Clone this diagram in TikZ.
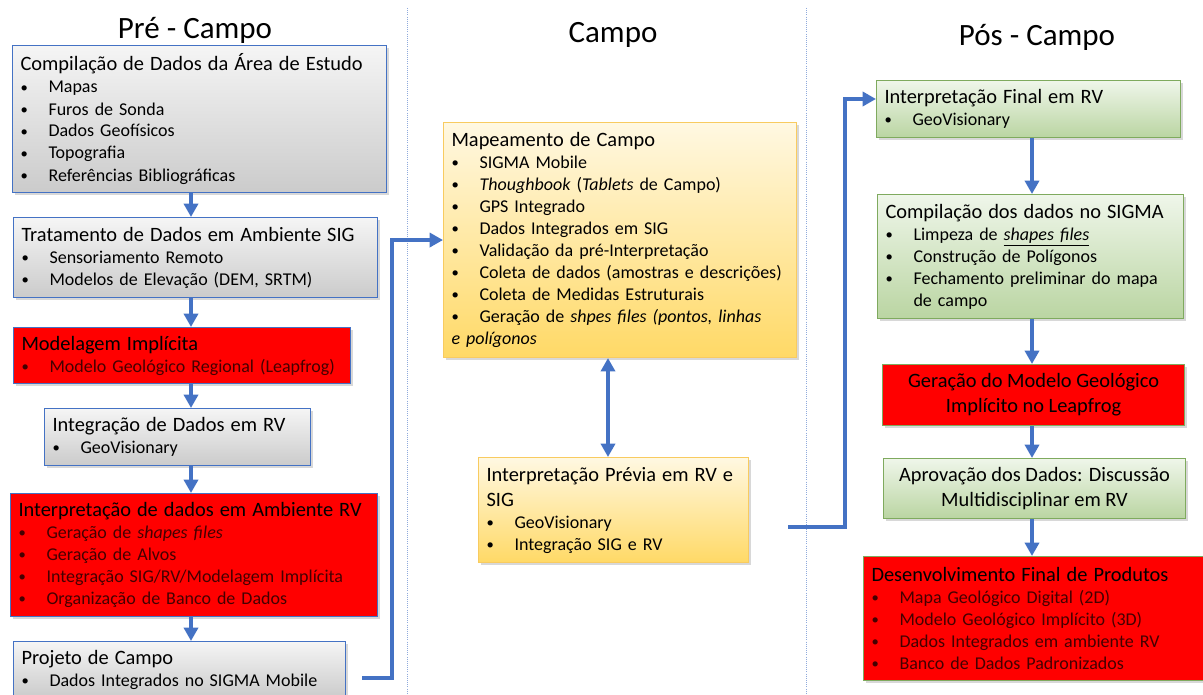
\documentclass[tikz,border=0pt]{standalone}
\usepackage{fontspec}
\setmainfont{Carlito}
\usepackage{tikz}
\usetikzlibrary{arrows.meta}
\usetikzlibrary{shadows}

\definecolor{flowblue}{HTML}{4472C4}
\definecolor{sepblue}{HTML}{8FAADC}
\definecolor{grayTop}{HTML}{F5F5F5}
\definecolor{grayBot}{HTML}{CBCBCB}
\definecolor{yelTop}{HTML}{FFF8E2}
\definecolor{yelBot}{HTML}{FFD966}
\definecolor{yelLine}{HTML}{F8CB60}
\definecolor{grnTop}{HTML}{EFF6EA}
\definecolor{grnBot}{HTML}{BAD5A2}
\definecolor{grnLine}{HTML}{7FAA5E}
\definecolor{boxRed}{HTML}{FF0000}
\definecolor{redText}{HTML}{440000}

\newcommand{\hd}[1]{{\fontsize{15.3}{18.75}\selectfont\color{black}\mbox{#1}\par}}
\newcommand{\bulletmark}{\raisebox{0.6pt}{\fontsize{11}{11}\selectfont\textbullet}}
\newcommand{\bl}[1]{\hangindent=21pt\hangafter=1\noindent\makebox[21pt][l]{\bulletmark}#1\par}
\newcommand{\blflat}[1]{\noindent\makebox[21pt][l]{\bulletmark}#1\par}

\begin{document}
\begin{tikzpicture}[x=0.75pt, y=-0.75pt]
\path[use as bounding box, fill=white] (0,0) rectangle (1203,695);

% column titles and separators
\begin{scope}[every node/.style={font=\fontsize{23.25}{28}\selectfont}]
    \node (t_pre) at (195,30) {Pré - Campo};
    \node (t_campo) at (613,35) {Campo};
    \node (t_pos) at (1037,37) {Pós - Campo};
\end{scope}
\coordinate (sep1a) at (407,8);
\coordinate (sep1b) at (407,695);
\coordinate (sep2a) at (806,8);
\coordinate (sep2b) at (806,695);
\draw[sepblue, densely dotted, line width=0.6pt] (sep1a) -- (sep1b);
\draw[sepblue, densely dotted, line width=0.6pt] (sep2a) -- (sep2b);

\begin{scope}[every node/.style={font=\fontsize{13.5}{16.5}\selectfont, anchor=north west,
                                 inner xsep=6pt, inner ysep=3pt, align=left, line width=0.8pt,
                                 drop shadow={opacity=0.3, shadow xshift=1.8pt, shadow yshift=-1.8pt}},
              gray_box/.style={draw=flowblue, top color=grayTop, bottom color=grayBot},
              red_box/.style={draw=flowblue, fill=boxRed, text=redText},
              redg_box/.style={draw=grnLine, fill=boxRed, text=redText},
              yellow_box/.style={draw=yelLine, top color=yelTop, bottom color=yelBot},
              green_box/.style={draw=grnLine, top color=grnTop, bottom color=grnBot}]
    % Pre - Campo
    \node[gray_box, text width=268.5pt, minimum height=110.25pt] (compila) at (12,45) {%
        \hd{Compilação de Dados da Área de Estudo}
        \bl{Mapas}
        \bl{Furos de Sonda}
        \bl{Dados Geofísicos}
        \bl{Topografia}
        \bl{Referências Bibliográficas}};
    \node[gray_box, text width=261pt, minimum height=60pt] (tratamento) at (13,217) {%
        \hd{Tratamento de Dados em Ambiente SIG}
        \bl{Sensoriamento Remoto}
        \bl{Modelos de Elevação (DEM, SRTM)}};
    \node[red_box, text width=240.75pt, minimum height=42pt] (modelagem) at (13,327) {%
        \hd{Modelagem Implícita}
        \bl{Modelo Geológico Regional (Leapfrog)}};
    \node[gray_box, text width=187.5pt, minimum height=42.75pt] (integra) at (44,408) {%
        \hd{Integração de Dados em RV}
        \bl{GeoVisionary}};
    \node[red_box, text width=263.25pt, minimum height=92.25pt] (interpreta) at (10,493) {%
        \hd{Interpretação de dados em Ambiente RV}
        \bl{Geração de \textit{shapes files}}
        \bl{Geração de Alvos}
        \bl{Integração SIG/RV/Modelagem Implícita}
        \bl{Organização de Banco de Dados}};
    \node[gray_box, text width=237pt, minimum height=42pt] (projeto) at (13,641) {%
        \hd{Projeto de Campo}
        \bl{Dados Integrados no SIGMA Mobile}};
    % Campo
    \node[yellow_box, text width=252.75pt, minimum height=176.25pt] (mapeamento) at (443,122) {%
        \hd{Mapeamento de Campo}
        \bl{SIGMA Mobile}
        \bl{\textit{Thoughbook} (\textit{Tablets} de Campo)}
        \bl{GPS Integrado}
        \bl{Dados Integrados em SIG}
        \bl{Validação da pré-Interpretação}
        \bl{Coleta de dados (amostras e descrições)}
        \bl{Coleta de Medidas Estruturais}
        \blflat{Geração de \textit{shpes files (pontos, linhas}\newline\textit{e polígonos}}};
    \node[yellow_box, text width=190.5pt, minimum height=78.75pt] (previa) at (478,457) {%
        \hd{Interpretação Prévia em RV e}
        \hd{SIG}
        \bl{GeoVisionary}
        \bl{Integração SIG e RV}};
    % Pos - Campo
    \node[green_box, text width=216pt, minimum height=42.75pt] (final) at (876,80) {%
        \hd{Interpretação Final em RV}
        \bl{GeoVisionary}};
    \node[green_box, text width=217.5pt, minimum height=93pt] (sigma) at (877,194) {%
        \hd{Compilação dos dados no SIGMA}
        \bl{Limpeza de \underline{\textit{shapes files}}}
        \bl{Construção de Polígonos}
        \bl{Fechamento preliminar do mapa\newline de campo}};
    \node[redg_box, text=black, align=center, font=\fontsize{15.3}{18.75}\selectfont,
          minimum width=226.5pt, minimum height=45.75pt] (geracao) at (882,364)
        {Geração do Modelo Geológico\\Implícito no Leapfrog};
    \node[green_box, align=center, font=\fontsize{15.3}{18.75}\selectfont,
          minimum width=226.5pt, minimum height=45pt] (aprova) at (883,458)
        {Aprovação dos Dados: Discussão\\Multidisciplinar em RV};
    \node[redg_box, text width=248pt, minimum height=93pt] (desenv) at (863,556) {%
        \hd{Desenvolvimento Final de Produtos}
        \bl{Mapa Geológico Digital (2D)}
        \bl{Modelo Geológico Implícito (3D)}
        \bl{Dados Integrados em ambiente RV}
        \bl{Banco de Dados Padronizados}};
\end{scope}

\coordinate (colL) at (191,0);
\coordinate (colM) at (608,0);
\coordinate (colR) at (1032,0);
\coordinate (pa) at (362,678);
\coordinate (pb) at (788,527);
\coordinate (qb) at (845,99);

\begin{scope}[>={Triangle[length=10pt,width=10.5pt]},
              blue_edge/.style={draw=flowblue, line width=3pt}]
    \path [->] (compila.south -| colL) edge [blue_edge] (tratamento.north -| colL);
    \path [->] (tratamento.south -| colL) edge [blue_edge] (modelagem.north -| colL);
    \path [->] (modelagem.south -| colL) edge [blue_edge] (integra.north -| colL);
    \path [->] (integra.south -| colL) edge [blue_edge] (interpreta.north -| colL);
    \path [->] (interpreta.south -| colL) edge [blue_edge] (projeto.north -| colL);
    \draw [->, blue_edge] (pa) -| ([xshift=-38.25pt]mapeamento.west) -- (mapeamento.west);
    \path [<->] (mapeamento.south -| colM) edge [blue_edge] (previa.north -| colM);
    \draw [->, blue_edge] (pb) -| (qb) -- (qb -| final.west);
    \path [->] (final.south -| colR) edge [blue_edge] (sigma.north -| colR);
    \path [->] (sigma.south -| colR) edge [blue_edge] (geracao.north -| colR);
    \path [->] (geracao.south -| colR) edge [blue_edge] (aprova.north -| colR);
    \path [->] (aprova.south -| colR) edge [blue_edge] (desenv.north -| colR);
\end{scope}
\end{tikzpicture}
\end{document}
